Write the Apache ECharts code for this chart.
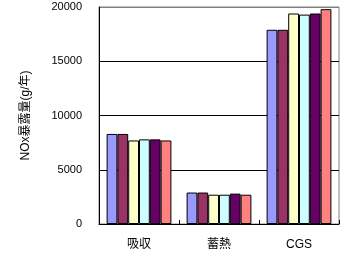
<!DOCTYPE html>
<html>
<head>
<meta charset="utf-8">
<script src="https://cdn.jsdelivr.net/npm/echarts@6/dist/echarts.min.js"></script>
<style>html,body{margin:0;padding:0;background:#fff}#c{width:350px;height:270px}</style>
</head>
<body>
<div id="c"></div>
<script>
const categories = ['吸収', '蓄熱', 'CGS'];
const s1 = [8300, 2900, 17900];
const s2 = [8300, 2900, 17900];
const s3 = [7700, 2700, 19400];
const s4 = [7800, 2700, 19300];
const s5 = [7800, 2800, 19400];
const s6 = [7700, 2700, 19800];
const seriesValues = [s1, s2, s3, s4, s5, s6];
const seriesNames = ['系列1', '系列2', '系列3', '系列4', '系列5', '系列6'];
const colors = ['#9999FF', '#993366', '#FFFFCC', '#CCFFFF', '#660066', '#FF8080'];
const yTicks = [0, 5000, 10000, 15000, 20000];

const font = '"Liberation Sans", "Noto Sans CJK JP", sans-serif';
const chart = echarts.init(document.getElementById('c'), null, {renderer: 'canvas'});
chart.setOption({
  animation: false,
  grid: {left: 99, right: 11, top: 7, bottom: 46, show: true, borderColor: '#808080', borderWidth: 1, backgroundColor: 'transparent'},
  xAxis: {
    type: 'category',
    data: categories,
    axisLine: {lineStyle: {color: '#000', width: 1}},
    axisTick: {show: true, inside: true, length: 4, lineStyle: {color: '#000'}},
    axisLabel: {color: '#000', fontSize: 12, margin: 15, fontFamily: font}
  },
  yAxis: {
    type: 'value',
    min: yTicks[0],
    max: yTicks[yTicks.length - 1],
    interval: yTicks[1] - yTicks[0],
    name: 'NOx暴露量(g/年)',
    nameLocation: 'middle',
    nameRotate: 90,
    nameGap: 67,
    nameTextStyle: {color: '#000', fontSize: 12, fontFamily: font},
    axisLine: {show: true, lineStyle: {color: '#000', width: 1}},
    axisTick: {show: false},
    axisLabel: {color: '#000', fontSize: 11, margin: 17, fontFamily: font, formatter: v => String(v)},
    splitLine: {show: true, lineStyle: {color: ['#000', '#000', '#000', '#000', '#808080'], width: 1}}
  },
  series: seriesValues.map((vals, i) => ({
    name: seriesNames[i],
    type: 'bar',
    data: vals,
    barGap: '0%',
    barCategoryGap: '19%',
    itemStyle: {color: colors[i], borderColor: '#000', borderWidth: 1}
  }))
});
</script>
</body>
</html>
